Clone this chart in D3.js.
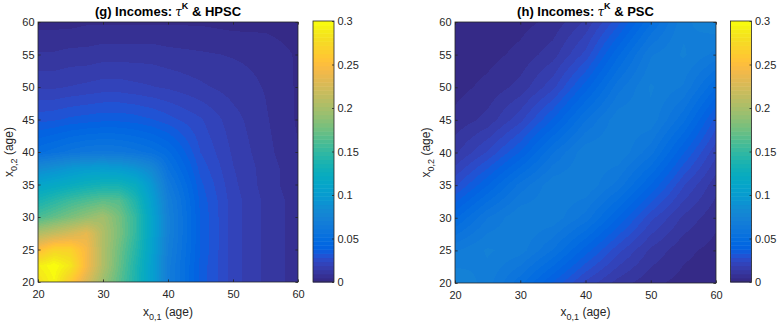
<!DOCTYPE html>
<html><head><meta charset="utf-8">
<script src="https://cdn.jsdelivr.net/npm/d3@7"></script>
<style>
body{margin:0;background:#fff}
svg{display:block}
text{font-family:"Liberation Sans",Arial,Helvetica,sans-serif}
</style>
</head><body>
<div id="chart"></div>
<script>
// ---------------- data ----------------
// Panel (g): grid of ages (x_{0,1} columns, x_{0,2} rows, rows from age 20 upward)
const agesG = [20,22.5,25,27.5,30,32.5,35,37.5,40,45,50,55,60];
const incomesHPSC = [
  [0.280,0.295,0.262,0.228,0.195,0.167,0.138,0.105,0.068,0.036,0.021,0.013,0.007],
  [0.290,0.300,0.285,0.245,0.205,0.172,0.140,0.105,0.068,0.036,0.021,0.013,0.007],
  [0.250,0.270,0.268,0.245,0.205,0.175,0.145,0.108,0.070,0.037,0.021,0.013,0.007],
  [0.205,0.215,0.225,0.235,0.205,0.180,0.150,0.110,0.072,0.037,0.021,0.013,0.007],
  [0.160,0.170,0.180,0.190,0.198,0.178,0.150,0.110,0.072,0.037,0.021,0.013,0.007],
  [0.135,0.145,0.155,0.162,0.168,0.165,0.140,0.105,0.070,0.036,0.021,0.013,0.007],
  [0.110,0.116,0.122,0.128,0.132,0.132,0.122,0.096,0.064,0.034,0.020,0.012,0.006],
  [0.082,0.088,0.095,0.100,0.101,0.099,0.092,0.080,0.056,0.031,0.019,0.012,0.006],
  [0.050,0.054,0.058,0.061,0.062,0.061,0.058,0.054,0.048,0.028,0.018,0.011,0.005],
  [0.031,0.032,0.034,0.035,0.036,0.036,0.035,0.033,0.030,0.024,0.016,0.010,0.004],
  [0.018,0.018,0.019,0.020,0.021,0.021,0.020,0.019,0.018,0.015,0.012,0.009,0.004],
  [0.010,0.010,0.011,0.011,0.012,0.012,0.012,0.012,0.011,0.010,0.009,0.008,0.004],
  [0.003,0.003,0.003,0.004,0.004,0.004,0.004,0.004,0.004,0.004,0.003,0.003,0.002]
];
// Panel (h)
const agesH = [20,25,30,35,40,45,50,55,60];
const incomesPSC = [
  [0.075,0.068,0.053,0.037,0.022,0.012,0.006,0.003,0.002],
  [0.065,0.071,0.068,0.056,0.040,0.025,0.013,0.006,0.003],
  [0.046,0.061,0.070,0.069,0.059,0.042,0.025,0.013,0.006],
  [0.027,0.042,0.058,0.069,0.070,0.059,0.042,0.024,0.011],
  [0.013,0.024,0.038,0.056,0.069,0.070,0.058,0.038,0.020],
  [0.006,0.011,0.022,0.038,0.056,0.069,0.069,0.053,0.031],
  [0.003,0.006,0.011,0.022,0.040,0.059,0.071,0.065,0.047],
  [0.002,0.003,0.006,0.012,0.025,0.046,0.065,0.071,0.064],
  [0.002,0.002,0.003,0.006,0.015,0.031,0.051,0.069,0.074]
];
const xTicks = [20,30,40,50,60];
const yTicks = [20,25,30,35,40,45,50,55,60];
const colorTicks = [0,0.05,0.1,0.15,0.2,0.25,0.3];
const colorTickLabels = ["0","0.05","0.1","0.15","0.2","0.25","0.3"];
const panelLetters = ["(g)","(h)"];
const panelSchemes = ["HPSC","PSC"];

// parula (64)
const parula = [
[0.2081,0.1663,0.5292],[0.2116,0.1898,0.5777],[0.2123,0.2138,0.6270],[0.2081,0.2386,0.6771],
[0.1959,0.2645,0.7279],[0.1707,0.2919,0.7792],[0.1253,0.3242,0.8303],[0.0591,0.3598,0.8683],
[0.0117,0.3875,0.8820],[0.0060,0.4086,0.8828],[0.0165,0.4266,0.8786],[0.0329,0.4430,0.8720],
[0.0498,0.4586,0.8641],[0.0629,0.4737,0.8554],[0.0723,0.4887,0.8467],[0.0779,0.5040,0.8384],
[0.0793,0.5200,0.8312],[0.0749,0.5375,0.8263],[0.0641,0.5570,0.8240],[0.0488,0.5772,0.8228],
[0.0343,0.5966,0.8199],[0.0265,0.6137,0.8135],[0.0239,0.6287,0.8038],[0.0231,0.6418,0.7913],
[0.0228,0.6535,0.7768],[0.0267,0.6642,0.7607],[0.0384,0.6743,0.7436],[0.0590,0.6838,0.7254],
[0.0843,0.6928,0.7062],[0.1133,0.7015,0.6859],[0.1453,0.7098,0.6646],[0.1801,0.7177,0.6424],
[0.2178,0.7250,0.6193],[0.2586,0.7317,0.5954],[0.3022,0.7376,0.5712],[0.3482,0.7424,0.5473],
[0.3953,0.7459,0.5244],[0.4420,0.7481,0.5033],[0.4871,0.7491,0.4840],[0.5300,0.7491,0.4661],
[0.5709,0.7485,0.4494],[0.6099,0.7473,0.4337],[0.6473,0.7456,0.4188],[0.6834,0.7435,0.4044],
[0.7184,0.7411,0.3905],[0.7525,0.7384,0.3768],[0.7858,0.7356,0.3633],[0.8185,0.7327,0.3498],
[0.8507,0.7299,0.3360],[0.8824,0.7274,0.3217],[0.9139,0.7258,0.3063],[0.9450,0.7261,0.2886],
[0.9739,0.7314,0.2666],[0.9938,0.7455,0.2403],[0.9990,0.7653,0.2164],[0.9955,0.7861,0.1967],
[0.9880,0.8066,0.1794],[0.9789,0.8271,0.1633],[0.9697,0.8481,0.1475],[0.9626,0.8705,0.1309],
[0.9589,0.8949,0.1132],[0.9598,0.9218,0.0948],[0.9661,0.9514,0.0755],[0.9763,0.9831,0.0538]
].map(c => d3.rgb(c[0]*255, c[1]*255, c[2]*255));

// ---------------- drawing ----------------
const W = 777, H = 324;
const svg = d3.select("#chart").append("svg").attr("width", W).attr("height", H);
const color = d3.scaleQuantize().domain([0, 0.3]).range(parula);
const INK = "#262626";

const panels = [
  {letter: panelLetters[0], scheme: panelSchemes[0], ages: agesG, values: incomesHPSC,
   L: 38, T: 22, S: 260, cbL: 313, cbW: 21},
  {letter: panelLetters[1], scheme: panelSchemes[1], ages: agesH, values: incomesPSC,
   L: 455, T: 22, S: 261, cbL: 730.5, cbW: 21}
];

function sample(grid, vals, ax, ay) {
  const n = grid.length;
  let i = Math.max(0, Math.min(n - 2, d3.bisectRight(grid, ax) - 1));
  let j = Math.max(0, Math.min(n - 2, d3.bisectRight(grid, ay) - 1));
  const tx = Math.max(0, Math.min(1, (ax - grid[i]) / (grid[i+1] - grid[i])));
  const ty = Math.max(0, Math.min(1, (ay - grid[j]) / (grid[j+1] - grid[j])));
  return (1-tx)*(1-ty)*vals[j][i] + tx*(1-ty)*vals[j][i+1] +
         (1-tx)*ty*vals[j+1][i] + tx*ty*vals[j+1][i+1];
}

function styleAxis(a, fs) {
  a.select(".domain").remove();
  a.selectAll("line").attr("stroke", INK).attr("stroke-width", 0.8);
  a.selectAll("text").attr("fill", INK).attr("font-size", fs)
    .attr("font-family", '"Liberation Sans",Arial,sans-serif');
}

panels.forEach(p => {
  const x = d3.scaleLinear().domain([20, 60]).range([p.L, p.L + p.S]);
  const y = d3.scaleLinear().domain([20, 60]).range([p.T + p.S, p.T]);
  const g = svg.append("g");

  // heat map raster
  const cnv = document.createElement("canvas");
  cnv.width = p.S; cnv.height = p.S;
  const ctx = cnv.getContext("2d");
  const img = ctx.createImageData(p.S, p.S);
  for (let py = 0; py < p.S; py++) {
    for (let px = 0; px < p.S; px++) {
      const ax = x.invert(p.L + px + 0.5), ay = y.invert(p.T + py + 0.5);
      const c = color(sample(p.ages, p.values, ax, ay));
      const k = (py * p.S + px) * 4;
      img.data[k] = c.r; img.data[k+1] = c.g; img.data[k+2] = c.b; img.data[k+3] = 255;
    }
  }
  ctx.putImageData(img, 0, 0);
  g.append("image").attr("x", p.L).attr("y", p.T).attr("width", p.S).attr("height", p.S)
    .attr("preserveAspectRatio", "none").attr("href", cnv.toDataURL());

  // axes (ticks point inward, box on)
  const fs = 11;
  styleAxis(g.append("g").attr("transform", `translate(0,${p.T + p.S})`)
    .call(d3.axisBottom(x).tickValues(xTicks).tickSizeInner(-2.6).tickSizeOuter(0).tickPadding(8.6)), fs);
  styleAxis(g.append("g").attr("transform", `translate(${p.L},0)`)
    .call(d3.axisLeft(y).tickValues(yTicks).tickSizeInner(-2.6).tickSizeOuter(0).tickPadding(3.4)), fs);
  styleAxis(g.append("g").attr("transform", `translate(0,${p.T})`)
    .call(d3.axisTop(x).tickValues(xTicks).tickSizeInner(-2.6).tickSizeOuter(0).tickFormat("")), fs);
  styleAxis(g.append("g").attr("transform", `translate(${p.L + p.S},0)`)
    .call(d3.axisRight(y).tickValues(yTicks).tickSizeInner(-2.6).tickSizeOuter(0).tickFormat("")), fs);
  g.append("rect").attr("x", p.L).attr("y", p.T).attr("width", p.S).attr("height", p.S)
    .attr("fill", "none").attr("stroke", INK).attr("stroke-width", 0.8);

  // axis labels
  const xl = g.append("text").attr("x", p.L + p.S / 2).attr("y", 316)
    .attr("text-anchor", "middle").attr("font-size", 12).attr("fill", INK);
  xl.append("tspan").text("x");
  xl.append("tspan").attr("dy", 4).attr("font-size", 9).text("0,1");
  xl.append("tspan").attr("dy", -4).text(" (age)");

  const yl = g.append("text")
    .attr("transform", `translate(${p.L - 25.5},${p.T + p.S / 2}) rotate(-90)`)
    .attr("text-anchor", "middle").attr("font-size", 12).attr("fill", INK);
  yl.append("tspan").text("x");
  yl.append("tspan").attr("dy", 4).attr("font-size", 9).text("0,2");
  yl.append("tspan").attr("dy", -4).text(" (age)");

  // title
  const tt = g.append("text").attr("x", p.L + p.S / 2).attr("y", 15.5)
    .attr("text-anchor", "middle").attr("font-size", 13).attr("font-weight", "bold").attr("fill", "#000");
  tt.append("tspan").text(`${p.letter} Incomes:`);
  tt.append("tspan").attr("dx", 3).attr("font-weight", "normal").attr("font-style", "italic")
    .attr("font-family", '"DejaVu Serif",serif').attr("font-size", 12).text("τ");
  tt.append("tspan").attr("dy", -7).attr("font-size", 9).text("K");
  tt.append("tspan").attr("dy", 7).text(" & " + p.scheme);

  // colorbar
  const cy = d3.scaleLinear().domain([0, 0.3]).range([282, 21]);
  const step = 0.3 / parula.length;
  g.append("g").selectAll("rect").data(parula).join("rect")
    .attr("x", p.cbL).attr("width", p.cbW)
    .attr("y", (d, i) => cy((i + 1) * step))
    .attr("height", (d, i) => cy(i * step) - cy((i + 1) * step) + 0.5)
    .attr("fill", (d, i) => color((i + 0.5) * step));
  const cb = g.append("g").attr("transform", `translate(${p.cbL + p.cbW},0)`)
    .call(d3.axisRight(cy).tickValues(colorTicks).tickFormat((d, i) => colorTickLabels[i])
      .tickSizeInner(-2).tickSizeOuter(0).tickPadding(3.4));
  styleAxis(cb, fs);
  g.append("rect").attr("x", p.cbL).attr("y", 21).attr("width", p.cbW).attr("height", 261)
    .attr("fill", "none").attr("stroke", INK).attr("stroke-width", 0.8);
});
</script>
</body></html>
